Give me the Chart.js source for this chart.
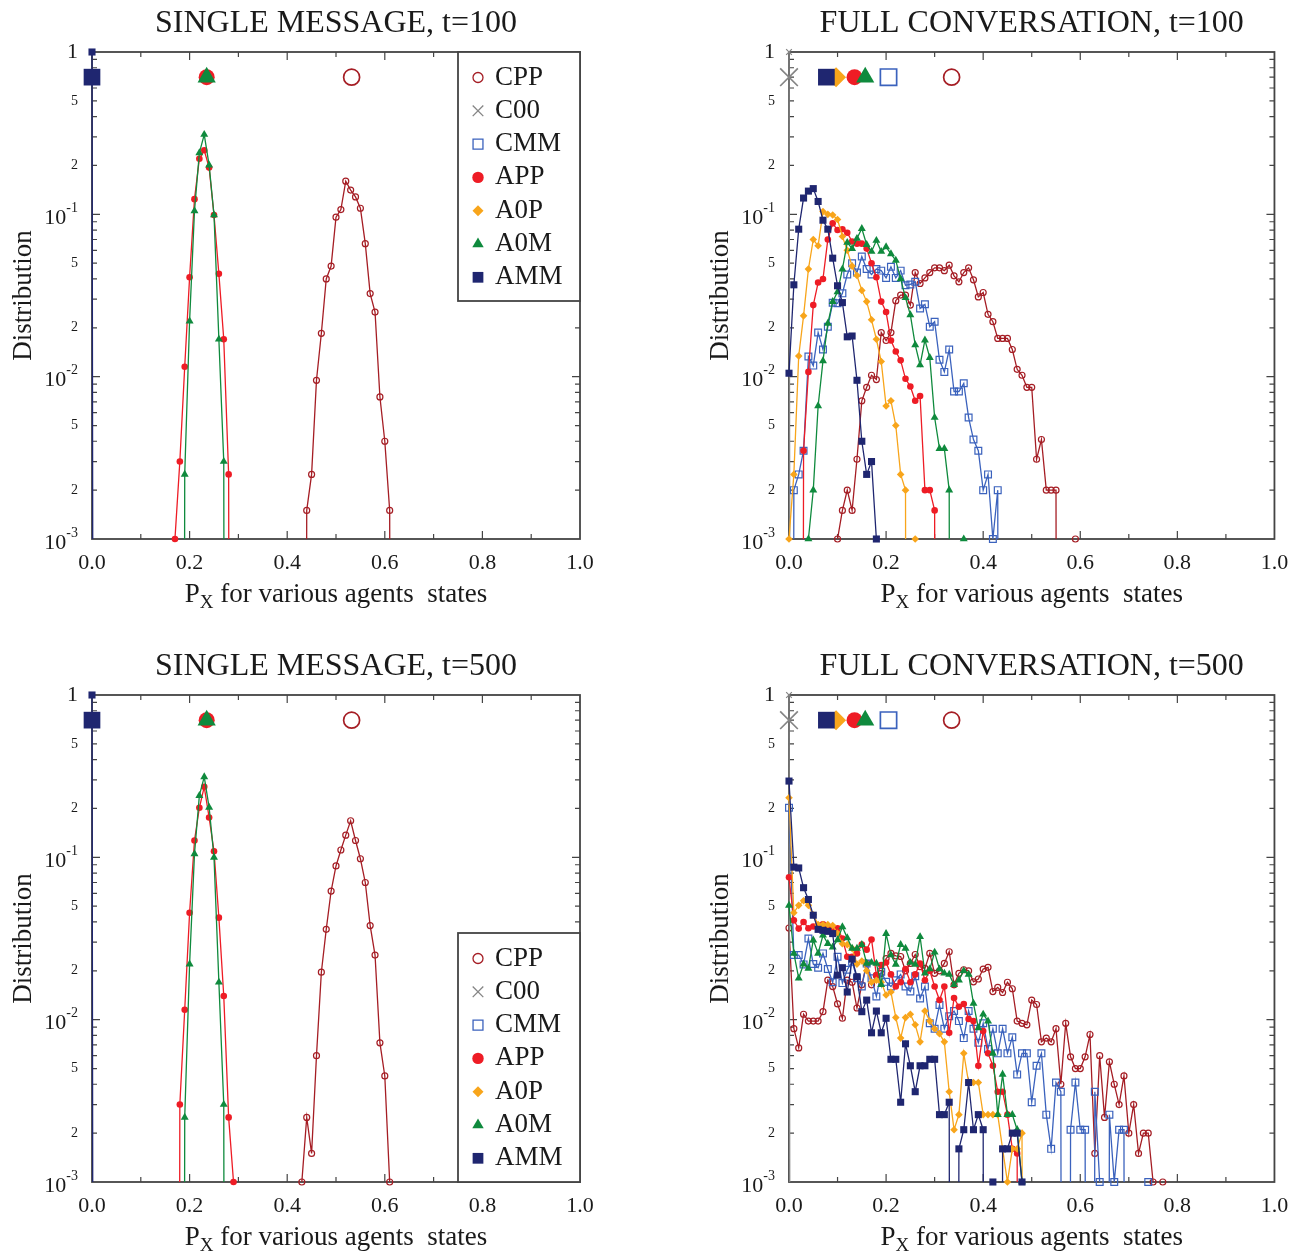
<!DOCTYPE html>
<html><head><meta charset="utf-8">
<script src="https://cdn.jsdelivr.net/npm/chart.js@4/dist/chart.umd.min.js"></script>
<style>
html,body{margin:0;padding:0;background:#fff;}
body{width:1299px;height:1251px;position:relative;overflow:hidden;}
canvas{position:absolute;}
</style></head><body>
<canvas id="p1" width="650" height="625" style="left:0px;top:0px"></canvas>
<canvas id="p2" width="649" height="625" style="left:650px;top:0px"></canvas>
<canvas id="p3" width="650" height="626" style="left:0px;top:625px"></canvas>
<canvas id="p4" width="649" height="626" style="left:650px;top:625px"></canvas>
<script>
// ---------------- data ----------------
const STATES = ['CPP','C00','CMM','APP','A0P','A0M','AMM'];
const BIN = 0.01;          // histogram bin width
const N_BINS = 101;        // bins from 0.00 to 1.00
const MEAN_ROW = 0.7;      // height of the row of mean markers

const X_TICKS = [0,0.1,0.2,0.3,0.4,0.5,0.6,0.7,0.8,0.9,1.0];
const X_TICK_LABELS = ['0.0','','0.2','','0.4','','0.6','','0.8','','1.0'];
const Y_TICKS = [0.001,0.002,0.003,0.004,0.005,0.006,0.007,0.008,0.009,
                 0.01,0.02,0.03,0.04,0.05,0.06,0.07,0.08,0.09,
                 0.1,0.2,0.3,0.4,0.5,0.6,0.7,0.8,0.9,1];
const Y_TICK_LABELS = ['10^-3','2','','','5','','','','',
                       '10^-2','2','','','5','','','','',
                       '10^-1','2','','','5','','','','','1'];
const Y_TITLE = 'Distribution';
const X_TITLE_MAIN = 'P', X_TITLE_SUB = 'X', X_TITLE_REST = ' for various agents  states';

// SINGLE MESSAGE, t=100  (values per 0.01 bin, starting at *_FROM)
const SM100_CPP_FROM = 0.44;
const SM100_CPP = [0.0015,0.0025,0.0095,0.0185,0.040,0.048,0.096,0.107,0.160,0.141,0.128,0.109,0.066,0.0325,0.025,0.0075,0.004,0.0015];
const SM100_APP_FROM = 0.17;
const SM100_APP = [0.001,0.003,0.0115,0.041,0.124,0.220,0.248,0.194,0.099,0.043,0.017,0.0025];
const SM100_A0M_FROM = 0.19;
const SM100_A0M = [0.0025,0.022,0.105,0.239,0.310,0.201,0.099,0.017,0.003];
const SM100_AMM_FROM = 0.00;
const SM100_AMM = [1];
const SM100_MEANS = [0.532,null,null,0.235,null,0.235,0.0];

// SINGLE MESSAGE, t=500
const SM500_CPP_FROM = 0.43;
const SM500_CPP = [0.001,0.0025,0.0015,0.006,0.0196,0.036,0.062,0.0885,0.111,0.137,0.168,0.127,0.098,0.070,0.038,0.025,0.0072,0.0045,0.001];
const SM500_APP_FROM = 0.18;
const SM500_APP = [0.003,0.0115,0.0456,0.127,0.202,0.272,0.176,0.109,0.0425,0.014,0.0025,0.001];
const SM500_A0M_FROM = 0.19;
const SM500_A0M = [0.0025,0.022,0.105,0.240,0.313,0.203,0.100,0.017,0.003];
const SM500_AMM_FROM = 0.00;
const SM500_AMM = [1];
const SM500_MEANS = [0.532,null,null,0.235,null,0.235,0.0];

// FULL CONVERSATION, t=100
const FC100_CPP_FROM = 0.10;
const FC100_CPP = [0.001,0.0015,0.002,0.0015,0.0031,0.0071,0.0086,0.0102,0.0096,0.0187,
  0.0167,0.0187,0.0294,0.0318,0.0318,0.0276,0.0438,0.0375,0.0406,0.0438,
  0.0468,0.0468,0.045,0.0486,0.0418,0.0384,0.0438,0.0468,0.0395,0.031,
  0.033,0.0242,0.0218,0.0172,0.0172,0.0172,0.0147,0.0111,0.0102,0.0086,
  0.0086,0.0031,0.0041,0.002,0.002,0.002,0,0,0,0.001];
const FC100_C00_FROM = 0.00;
const FC100_C00 = [1];
const FC100_CMM_FROM = 0.01;
const FC100_CMM = [0.002,0.0025,0.0035,0.0133,0.0117,0.0187,0.0147,0.0203,0.0285,0.0283,
  0.0326,0.0426,0.050,0.0438,0.055,0.046,0.0426,0.046,0.045,0.0406,
  0.0475,0.0406,0.045,0.0366,0.037,0.0384,0.0263,0.0279,0.0203,0.0218,
  0.0127,0.0107,0.0147,0.0081,0.0081,0.0091,0.0056,0.0041,0.0035,0.002,
  0.0025,0.001,0.002];
const FC100_APP_FROM = 0.03;
const FC100_APP = [0.0035,0.0107,0.0276,0.038,0.040,0.070,0.088,0.080,0.081,0.077,
  0.068,0.066,0.066,0.0615,0.050,0.041,0.029,0.025,0.0167,0.0143,
  0.0126,0.0097,0.0087,0.0071,0.0076,0.002,0.002,0.0015];
const FC100_A0P_FROM = 0.00;
const FC100_A0P = [0.001,0.0025,0.0134,0.0237,0.046,0.070,0.064,0.104,0.100,0.099,
  0.093,0.073,0.060,0.048,0.042,0.034,0.029,0.0224,0.017,0.0124,
  0.0066,0.0071,0.005,0.0025,0.002,0,0.001];
const FC100_A0M_FROM = 0.04;
const FC100_A0M = [0.001,0.002,0.0066,0.0125,0.0213,0.029,0.0333,0.046,0.067,0.0615,
  0.071,0.0817,0.065,0.059,0.069,0.059,0.063,0.057,0.052,0.040,
  0.0306,0.024,0.0157,0.0118,0.0168,0.0131,0.0056,0.0036,0.0036,0.002,
  0,0,0.001];
const FC100_AMM_FROM = 0.00;
const FC100_AMM = [0.0105,0.0368,0.081,0.126,0.139,0.144,0.120,0.092,0.081,0.0537,
  0.0363,0.0286,0.0176,0.0178,0.0095,0.004,0.0025,0.003,0.001];
const FC100_MEANS = [0.335,0.0,0.205,0.135,0.097,0.157,0.077];

// FULL CONVERSATION, t=500
const FC500_CPP_FROM = 0.00;
const FC500_CPP = [0.0367,0.0088,0.0067,0.0108,0.0098,0.0098,0.0098,0.0112,0.0175,0.0160,
  0.0125,0.0102,0.0175,0.0170,0.0118,0.0164,0.0222,0.0164,0.0187,0.0193,
  0.0238,0.0256,0.0247,0.0245,0.0200,0.0222,0.0252,0.0212,0.0207,0.0256,
  0.0193,0.0200,0.0222,0.0262,0.0164,0.0193,0.0203,0.0200,0.0171,0.0178,
  0.0205,0.0210,0.0149,0.0158,0.0147,0.0170,0.0155,0.0098,0.0095,0.0093,
  0.0132,0.0124,0.0073,0.0077,0.0073,0.0088,0.0040,0.0095,0.0059,0.0050,
  0.0050,0.0059,0.0081,0.0015,0.0060,0.0025,0.0055,0.0040,0.0030,0.0045,
  0.0020,0.0030,0.0015,0.0020,0.0020,0.0010,0,0.0010];
const FC500_C00_FROM = 0.00;
const FC500_C00 = [1];
const FC500_CMM_FROM = 0.00;
const FC500_CMM = [0.202,0.025,0.025,0.0219,0.0316,0.022,0.0209,0.0256,0.0205,0.017,
  0.0244,0.0168,0.0203,0.0227,0.018,0.016,0.0222,0.018,0.0139,0.0197,
  0.0171,0.016,0.0175,0.019,0.016,0.0149,0.0185,0.0135,0.016,0.0095,
  0.0088,0.0123,0.0088,0.0105,0.0113,0.0098,0.0077,0.0113,0.0088,0.0072,
  0.0095,0.0066,0.0088,0.0062,0.0088,0.0062,0.0078,0.0046,0.0062,0.0062,
  0.0031,0.0052,0.0062,0.0026,0.0016,0.0041,0.0036,0,0.0021,0.0041,
  0.0021,0.0021,0,0.0036,0.001,0,0.0026,0.001,0.0021,0.0021,
  0,0,0,0,0.001];
const FC500_APP_FROM = 0.00;
const FC500_APP = [0.0754,0.0409,0.0364,0.040,0.0366,0.0375,0.038,0.0387,0.037,0.036,
  0.0366,0.0316,0.0244,0.0244,0.0256,0.029,0.027,0.0312,0.0188,0.0217,
  0.0225,0.019,0.016,0.017,0.0205,0.017,0.019,0.0222,0.0175,0.020,
  0.016,0.0132,0.016,0.0083,0.0136,0.012,0.0125,0.0101,0.0098,0.0052,
  0.0085,0.0062,0.0052,0.0036,0.0036,0.0026,0.0016,0.0015];
const FC500_A0P_FROM = 0.00;
const FC500_A0P = [0.233,0.0456,0.0506,0.054,0.0506,0.0443,0.0385,0.0385,0.0385,0.038,
  0.034,0.0294,0.029,0.0275,0.022,0.023,0.020,0.017,0.0175,0.017,
  0.0142,0.0148,0.0103,0.0077,0.0103,0.0108,0.0093,0.0073,0.0113,0.0098,
  0.0088,0.0082,0.0073,0.0036,0.0021,0.0026,0.0062,0.0041,0.0041,0.0041,
  0.0026,0.0026,0.0026,0.0026,0.0016,0.001,0.0016,0.0016,0.002];
const FC500_A0M_FROM = 0.00;
const FC500_A0M = [0.0506,0.0256,0.018,0.022,0.0207,0.0309,0.0256,0.0331,0.0294,0.028,
  0.031,0.0373,0.0319,0.0275,0.0275,0.029,0.0222,0.0225,0.0222,0.0164,
  0.0339,0.025,0.0219,0.029,0.0275,0.0225,0.0219,0.0324,0.0193,0.0205,
  0.026,0.0205,0.0193,0.019,0.0164,0.0175,0.020,0.019,0.0126,0.0089,
  0.0108,0.0098,0.0062,0.0026,0.0046,0.0026,0.0026,0.0021,0.001];
const FC500_AMM_FROM = 0.00;
const FC500_AMM = [0.295,0.087,0.086,0.065,0.055,0.044,0.036,0.0355,0.035,0.0339,
  0.0188,0.0209,0.0148,0.0236,0.0184,0.0112,0.0132,0.0083,0.0113,0.0083,
  0.0102,0.0057,0.0057,0.0031,0.0071,0.0052,0.0036,0.0052,0.0052,0.0057,
  0.0057,0.0026,0.0026,0.0031,0,0.0016,0.0021,0.0041,0.0021,0.0026,
  0.0021,0,0.001,0,0.0016,0.0016,0.002,0.002,0.001];
const FC500_MEANS = [0.335,0.0,0.205,0.135,0.097,0.157,0.077];

// ---------------- styles ----------------
const FONT = '"Liberation Serif","Times New Roman",serif';
const TEXT = '#1a1a1a';
const FRAME = '#444444';
const COLORS = {CPP:'#a51d24', C00:'#858585', CMM:'#3b62bd', APP:'#ee1c25', A0P:'#f8a51b', A0M:'#0f8a3d', AMM:'#1f2670'};
const MARK = {CPP:{style:'circle',r:3,open:true}, C00:{style:'crossRot',r:4,open:true}, CMM:{style:'rect',r:4.8,open:true},
              APP:{style:'circle',r:3.3}, A0P:{style:'rectRot',r:3.8}, A0M:{style:'triangle',r:4.6}, AMM:{style:'rect',r:5}};
const BIG = {CPP:8, C00:12.5, CMM:11.5, APP:8, A0P:10, A0M:10.5, AMM:11.8};
const LEG = {CPP:5, C00:7.5, CMM:7, APP:5.7, A0P:5.5, A0M:6.6, AMM:7.6};
const ZERO_PLOT = 1e-20; // empty bins sit far below the axis and are clipped

const PANELS = [
  {id:'p1', row:0, col:0, title:'SINGLE MESSAGE, t=100', legend:'top', means:SM100_MEANS,
   series:{CPP:[SM100_CPP_FROM,SM100_CPP], APP:[SM100_APP_FROM,SM100_APP], A0M:[SM100_A0M_FROM,SM100_A0M], AMM:[SM100_AMM_FROM,SM100_AMM]}},
  {id:'p2', row:0, col:1, title:'FULL CONVERSATION, t=100', legend:null, means:FC100_MEANS,
   series:{CPP:[FC100_CPP_FROM,FC100_CPP], C00:[FC100_C00_FROM,FC100_C00], CMM:[FC100_CMM_FROM,FC100_CMM], APP:[FC100_APP_FROM,FC100_APP],
           A0P:[FC100_A0P_FROM,FC100_A0P], A0M:[FC100_A0M_FROM,FC100_A0M], AMM:[FC100_AMM_FROM,FC100_AMM]}},
  {id:'p3', row:1, col:0, title:'SINGLE MESSAGE, t=500', legend:'bottom', means:SM500_MEANS,
   series:{CPP:[SM500_CPP_FROM,SM500_CPP], APP:[SM500_APP_FROM,SM500_APP], A0M:[SM500_A0M_FROM,SM500_A0M], AMM:[SM500_AMM_FROM,SM500_AMM]}},
  {id:'p4', row:1, col:1, title:'FULL CONVERSATION, t=500', legend:null, means:FC500_MEANS,
   series:{CPP:[FC500_CPP_FROM,FC500_CPP], C00:[FC500_C00_FROM,FC500_C00], CMM:[FC500_CMM_FROM,FC500_CMM], APP:[FC500_APP_FROM,FC500_APP],
           A0P:[FC500_A0P_FROM,FC500_A0P], A0M:[FC500_A0M_FROM,FC500_A0M], AMM:[FC500_AMM_FROM,FC500_AMM]}}
];

Chart.defaults.font.family = FONT;
Chart.defaults.color = TEXT;

function buildDatasets(p){
  const ds = []; let k = 0;
  STATES.forEach(s => {
    const ser = p.series[s]; if (!ser) return;
    const from = ser[0], vals = ser[1];
    const i0 = Math.round(from / BIN);
    const line = [], pts = [];
    for (let i = 0; i < N_BINS; i++) {
      const j = i - i0;
      const v = (j >= 0 && j < vals.length) ? vals[j] : 0;
      const x = Math.round(i * BIN * 100) / 100;
      line.push({x, y: v > 0 ? v : ZERO_PLOT});
      if (v > 0) pts.push({x, y: v});
    }
    const m = MARK[s];
    ds.push({type:'line', data:line, borderColor:COLORS[s], borderWidth:1.3, pointRadius:0, tension:0,
             clip:{left:2, top:2, right:0, bottom:0}, order:1000 - (k++)});
    ds.push({type:'line', showLine:false, data:pts, pointStyle:m.style, pointRadius:m.r,
             pointBackgroundColor: m.open ? 'rgba(0,0,0,0)' : COLORS[s], pointBorderColor:COLORS[s],
             pointBorderWidth: m.open ? 1.2 : 0, clip:false, order:1000 - (k++)});
  });
  STATES.forEach((s, si) => {
    const mx = p.means[si]; if (mx === null || mx === undefined) return;
    const m = MARK[s];
    ds.push({type:'line', showLine:false, data:[{x:mx, y:MEAN_ROW}], pointStyle:m.style, pointRadius:BIG[s],
             pointBackgroundColor: m.open ? 'rgba(0,0,0,0)' : COLORS[s], pointBorderColor:COLORS[s],
             pointBorderWidth: m.open ? 1.7 : 0, clip:false, order:1000 - (k++)});
  });
  return ds;
}

function drawMarker(ctx, s, x, y, r, bw){
  const m = MARK[s];
  ctx.save();
  ctx.fillStyle = m.open ? 'rgba(0,0,0,0)' : COLORS[s];
  ctx.strokeStyle = COLORS[s];
  ctx.lineWidth = bw;
  Chart.helpers.drawPoint(ctx, {pointStyle:m.style, radius:r, rotation:0, borderWidth: m.open ? bw : 0}, x, y);
  ctx.restore();
}

const decor = {
  id:'decor',
  beforeDatasetsDraw(chart){
    const {ctx, chartArea:a} = chart;
    const xs = chart.scales.x, ys = chart.scales.y;
    ctx.save();
    ctx.strokeStyle = FRAME; ctx.lineWidth = 1.8;
    ctx.strokeRect(a.left, a.top, a.right - a.left, a.bottom - a.top);
    ctx.lineWidth = 1.2;
    ctx.beginPath();
    X_TICKS.forEach((v, i) => {
      if (i === 0 || i === X_TICKS.length - 1) return;
      const px = xs.getPixelForValue(v); const len = X_TICK_LABELS[i] ? 8 : 5;
      ctx.moveTo(px, a.bottom); ctx.lineTo(px, a.bottom - len);
      ctx.moveTo(px, a.top); ctx.lineTo(px, a.top + len);
    });
    Y_TICKS.forEach((v, i) => {
      if (i === 0 || i === Y_TICKS.length - 1) return;
      const py = ys.getPixelForValue(v); const len = Y_TICK_LABELS[i].indexOf('^') >= 0 ? 8 : 5;
      ctx.moveTo(a.left, py); ctx.lineTo(a.left + len, py);
      ctx.moveTo(a.right, py); ctx.lineTo(a.right - len, py);
    });
    ctx.stroke();
    // decade labels with superscript
    ctx.fillStyle = TEXT; ctx.textAlign = 'right'; ctx.textBaseline = 'middle';
    Y_TICKS.forEach((v, i) => {
      const t = Y_TICK_LABELS[i]; if (t.indexOf('^') < 0) return;
      const parts = t.split('^');
      const py = ys.getPixelForValue(v);
      const right = a.left - 14;
      ctx.font = '14px ' + FONT;
      const w = ctx.measureText(parts[1]).width;
      ctx.fillText(parts[1], right, py - 6);
      ctx.font = '22px ' + FONT;
      ctx.fillText(parts[0], right - w, py + 4);
    });
    ctx.restore();
  },
  afterDatasetsDraw(chart, args, opts){
    const {ctx, chartArea:a} = chart;
    ctx.save();
    // x-axis title with subscript
    ctx.fillStyle = TEXT; ctx.textBaseline = 'alphabetic'; ctx.textAlign = 'left';
    ctx.font = '27px ' + FONT;
    const wP = ctx.measureText(X_TITLE_MAIN).width, wR = ctx.measureText(X_TITLE_REST).width;
    ctx.font = '19px ' + FONT;
    const wX = ctx.measureText(X_TITLE_SUB).width;
    const start = (a.left + a.right) / 2 - (wP + wX + wR) / 2;
    const base = a.bottom + 62.5;
    ctx.font = '27px ' + FONT; ctx.fillText(X_TITLE_MAIN, start, base);
    ctx.font = '19px ' + FONT; ctx.fillText(X_TITLE_SUB, start + wP, base + 6.5);
    ctx.font = '27px ' + FONT; ctx.fillText(X_TITLE_REST, start + wP + wX, base);
    // legend
    if (opts.legend) {
      const w = 122, h = 249;
      const L = a.right - w, T = opts.legend === 'top' ? a.top : a.bottom - h;
      ctx.fillStyle = '#ffffff'; ctx.fillRect(L, T, w, h);
      ctx.strokeStyle = FRAME; ctx.lineWidth = 1.8; ctx.strokeRect(L, T, w, h);
      STATES.forEach((s, i) => {
        const yy = T + 25.5 + i * 33.3;
        drawMarker(ctx, s, L + 20, yy, LEG[s], 1.3);
        ctx.fillStyle = TEXT; ctx.font = '27px ' + FONT; ctx.textAlign = 'left'; ctx.textBaseline = 'middle';
        ctx.fillText(s, L + 37, yy);
      });
    }
    ctx.restore();
  }
};

PANELS.forEach(p => {
  const top = p.row === 0;
  const titleH = top ? 52 : 70;
  const padTop = top ? 4.1 : 22.1;
  new Chart(document.getElementById(p.id), {
    type:'line',
    data:{datasets: buildDatasets(p)},
    options:{
      responsive:false, animation:false, events:[], devicePixelRatio:1,
      layout:{autoPadding:false, padding:{left: p.col === 0 ? 0 : 47, right: p.col === 0 ? 70 : 22, top:0, bottom:0}},
      plugins:{
        legend:{display:false}, tooltip:{enabled:false},
        title:{display:true, text:p.title, fullSize:false, color:TEXT, font:{size:32, weight:'normal', lineHeight:1.2},
               padding:{top:padTop, bottom:titleH - 38.4 - padTop}},
        decor:{legend:p.legend}
      },
      scales:{
        x:{type:'linear', min:0, max:1,
           grid:{display:false, drawTicks:false}, border:{display:false},
           afterBuildTicks: s => { s.ticks = X_TICKS.map(v => ({value:v})); },
           afterFit: s => { s.height = top ? 86 : 69; },
           ticks:{autoSkip:false, maxRotation:0, padding:10.8, color:TEXT, font:{size:22},
                  callback:(v, i) => X_TICK_LABELS[i]}},
        y:{type:'logarithmic', min:0.001, max:1,
           grid:{display:false, drawTicks:false}, border:{display:false},
           afterBuildTicks: s => { s.ticks = Y_TICKS.map(v => ({value:v})); },
           afterFit: s => { s.width = 92; },
           title:{display:true, text:Y_TITLE, color:TEXT, font:{size:27, lineHeight:1.2}, padding:{top:7.3, bottom:0}},
           ticks:{autoSkip:false, padding:14, color:TEXT,
                  font: c => ({size: (Y_TICK_LABELS[c.index] === '1') ? 22 : 14}),
                  callback:(v, i) => { const t = Y_TICK_LABELS[i]; return (t && t.indexOf('^') < 0) ? t : ''; }}}
      }
    },
    plugins:[decor]
  });
});
</script>
</body></html>
